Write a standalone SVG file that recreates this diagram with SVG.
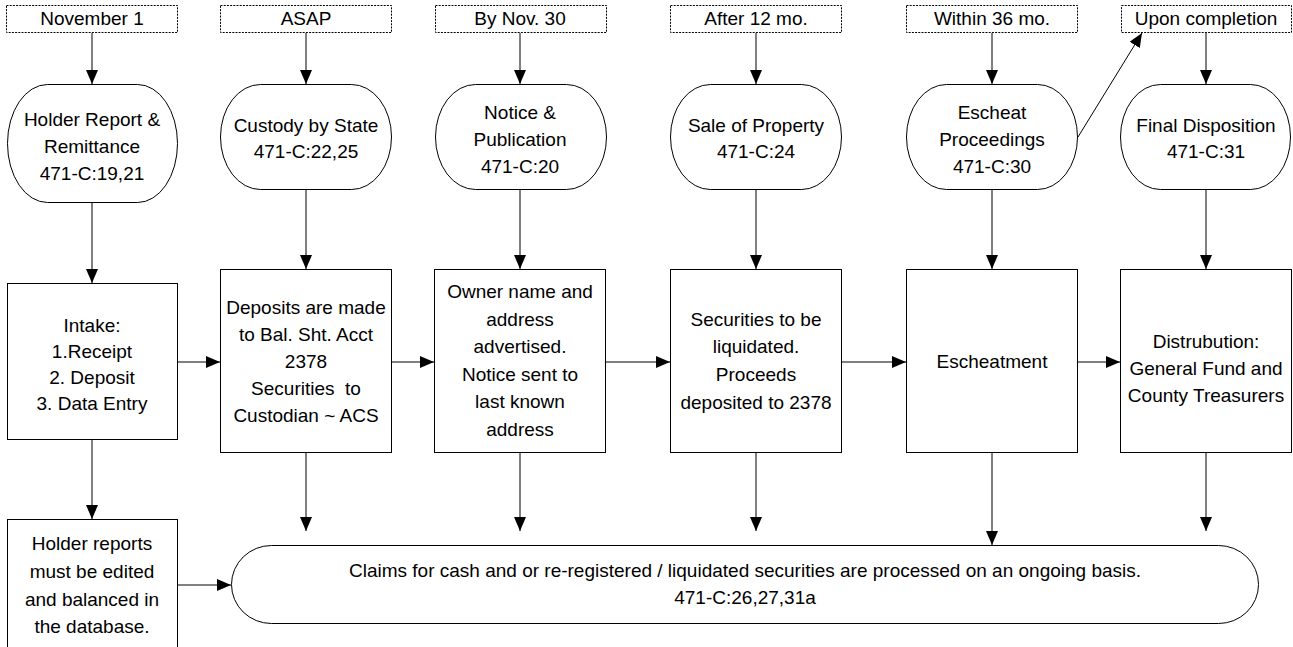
<svg xmlns="http://www.w3.org/2000/svg" width="1293" height="647" viewBox="0 0 1293 647">
<defs>
<marker id="ah" markerUnits="userSpaceOnUse" markerWidth="14" markerHeight="12" refX="14" refY="6" orient="auto">
<path d="M0,0 L14,6 L0,12 Z" fill="#000"/>
</marker>
<style>
text{font-family:"Liberation Sans",Arial,sans-serif;font-size:19px;fill:#000;text-anchor:middle}
.tl{fill:#fff;stroke:#000;stroke-width:1;stroke-dasharray:2 1.2}
.nd{fill:#fff;stroke:#000;stroke-width:1}
.cn line{stroke:#000;stroke-width:1;marker-end:url(#ah)}
</style>
</defs>
<rect width="1293" height="647" fill="#fff"/>
<g class="cn" id="connectors">
<line x1="92" y1="33" x2="92" y2="84"/>
<line x1="306" y1="33" x2="306" y2="84"/>
<line x1="520" y1="33" x2="520" y2="84"/>
<line x1="756" y1="33" x2="756" y2="84"/>
<line x1="992" y1="33" x2="992" y2="84"/>
<line x1="1206" y1="33" x2="1206" y2="84"/>
<line x1="1078" y1="137" x2="1142" y2="33"/>
<line x1="92" y1="203" x2="92" y2="283"/>
<line x1="306" y1="190" x2="306" y2="269"/>
<line x1="520" y1="190" x2="520" y2="269"/>
<line x1="756" y1="190" x2="756" y2="269"/>
<line x1="992" y1="190" x2="992" y2="269"/>
<line x1="1206" y1="190" x2="1206" y2="269"/>
<line x1="178" y1="362" x2="220" y2="362"/>
<line x1="392" y1="362" x2="434" y2="362"/>
<line x1="606" y1="362" x2="670" y2="362"/>
<line x1="842" y1="362" x2="906" y2="362"/>
<line x1="1078" y1="362" x2="1120" y2="362"/>
<line x1="92" y1="440" x2="92" y2="519"/>
<line x1="306" y1="453" x2="306" y2="531"/>
<line x1="520" y1="453" x2="520" y2="531"/>
<line x1="756" y1="453" x2="756" y2="531"/>
<line x1="992" y1="453" x2="992" y2="545"/>
<line x1="1206" y1="453" x2="1206" y2="531"/>
<line x1="178" y1="585" x2="231" y2="585"/>
</g>
<g id="t1"><rect class="tl" x="6.5" y="5.5" width="171" height="27"/><text x="92" y="25">November 1</text></g>
<g id="t2"><rect class="tl" x="220.5" y="5.5" width="171" height="27"/><text x="306" y="25">ASAP</text></g>
<g id="t3"><rect class="tl" x="435.5" y="5.5" width="171" height="27"/><text x="520" y="25">By Nov. 30</text></g>
<g id="t4"><rect class="tl" x="670.5" y="5.5" width="171" height="27"/><text x="756" y="25">After 12 mo.</text></g>
<g id="t5"><rect class="tl" x="906.5" y="5.5" width="171" height="27"/><text x="992" y="25">Within 36 mo.</text></g>
<g id="t6"><rect class="tl" x="1121.5" y="5.5" width="170" height="27"/><text x="1206" y="25">Upon completion</text></g>

<g id="n1"><rect class="nd" x="7.5" y="84.5" width="170" height="118" rx="40" ry="59"/><text x="92" y="126">Holder Report &amp;</text><text x="92" y="153">Remittance</text><text x="92" y="180">471-C:19,21</text></g>
<g id="n2"><rect class="nd" x="220.5" y="84.5" width="171" height="105" rx="40" ry="52.5"/><text x="306" y="132">Custody by State</text><text x="306" y="158">471-C:22,25</text></g>
<g id="n3"><rect class="nd" x="435.5" y="84.5" width="171" height="105" rx="40" ry="52.5"/><text x="520" y="119">Notice &amp;</text><text x="520" y="146">Publication</text><text x="520" y="173">471-C:20</text></g>
<g id="n4"><rect class="nd" x="670.5" y="84.5" width="171" height="105" rx="40" ry="52.5"/><text x="756" y="132">Sale of Property</text><text x="756" y="158">471-C:24</text></g>
<g id="n5"><rect class="nd" x="906.5" y="84.5" width="171" height="105" rx="40" ry="52.5"/><text x="992" y="119">Escheat</text><text x="992" y="146">Proceedings</text><text x="992" y="173">471-C:30</text></g>
<g id="n6"><rect class="nd" x="1120.5" y="84.5" width="170" height="105" rx="40" ry="52.5"/><text x="1206" y="132">Final Disposition</text><text x="1206" y="158">471-C:31</text></g>

<g id="b1"><rect class="nd" x="7.5" y="283.5" width="170" height="156"/><text x="92" y="332">Intake:</text><text x="92" y="358">1.Receipt</text><text x="92" y="384">2. Deposit</text><text x="92" y="410">3. Data Entry</text></g>
<g id="b2"><rect class="nd" x="220.5" y="269.5" width="171" height="183"/><text x="306" y="314">Deposits are made</text><text x="306" y="341">to Bal. Sht. Acct</text><text x="306" y="368">2378</text><text x="306" y="395" xml:space="preserve">Securities  to</text><text x="306" y="422">Custodian ~ ACS</text></g>
<g id="b3"><rect class="nd" x="434.5" y="269.5" width="171" height="183"/><text x="520" y="298">Owner name and</text><text x="520" y="325.5">address</text><text x="520" y="353">advertised.</text><text x="520" y="380.5">Notice sent to</text><text x="520" y="408">last known</text><text x="520" y="435.5">address</text></g>
<g id="b4"><rect class="nd" x="670.5" y="269.5" width="171" height="183"/><text x="756" y="326">Securities to be</text><text x="756" y="353">liquidated.</text><text x="756" y="381">Proceeds</text><text x="756" y="409">deposited to 2378</text></g>
<g id="b5"><rect class="nd" x="906.5" y="269.5" width="171" height="183"/><text x="992" y="368">Escheatment</text></g>
<g id="b6"><rect class="nd" x="1120.5" y="269.5" width="171" height="183"/><text x="1206" y="348">Distrubution:</text><text x="1206" y="375">General Fund and</text><text x="1206" y="402">County Treasurers</text></g>

<g id="b7"><rect class="nd" x="7.5" y="519.5" width="170" height="140"/><text x="92" y="550">Holder reports</text><text x="92" y="578">must be edited</text><text x="92" y="606">and balanced in</text><text x="92" y="633">the database.</text></g>
<g id="claims"><rect class="nd" x="231.5" y="545.5" width="1027" height="78" rx="40" ry="39"/><text x="745" y="577">Claims for cash and or re-registered / liquidated securities are processed on an ongoing basis.</text><text x="745" y="604">471-C:26,27,31a</text></g>
</svg>
